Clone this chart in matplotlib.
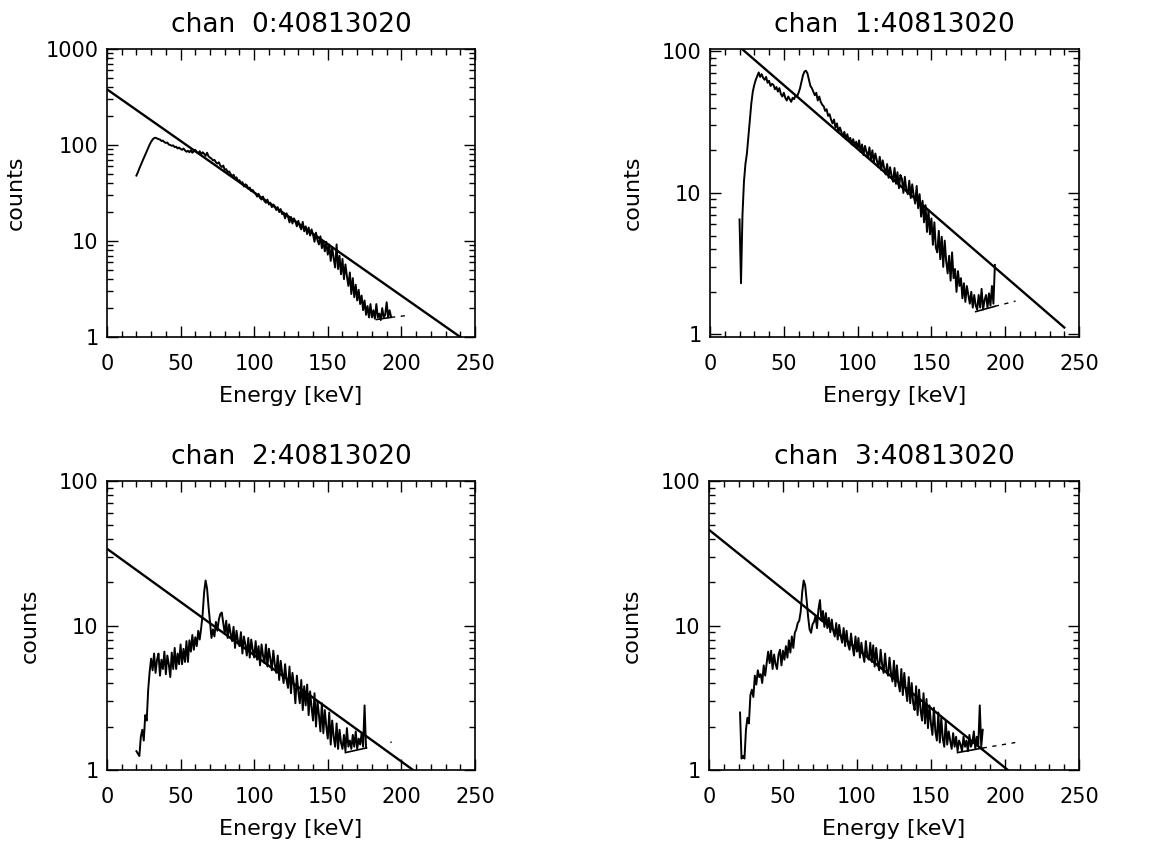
import numpy as np
import matplotlib
matplotlib.use("Agg")
import matplotlib.pyplot as plt
from matplotlib.ticker import MultipleLocator, LogLocator, FuncFormatter, NullFormatter

run_id = "40813020"

# channel energies [keV] (1 keV bins) and counts
energy0 = np.arange(20, 194)
counts0 = [48, 52, 57, 62, 67, 73, 79, 86, 93, 101,
           108, 114, 118, 119, 117, 115, 114, 110, 111, 107,
           105, 106, 101, 100, 98, 99, 95, 96, 92, 94,
           91, 89, 92, 88, 85, 87, 84, 88, 83, 86,
           89, 84, 82, 86, 80, 84, 81, 77, 83, 76,
           74, 72, 69, 70, 66, 64, 66, 61, 59, 61,
           55, 56, 52, 53, 50, 47, 49, 45, 46, 42,
           43, 40, 41, 37, 39, 38, 35, 36, 33, 34,
           32, 31, 29, 31, 28, 27, 29, 26, 25, 27,
           24, 25, 22.5, 24, 23, 21, 22.5, 20, 21.5, 19,
           19.5, 17.2, 19.4, 18, 15.6, 17.8, 15.2, 17.2, 16, 14.2,
           16.2, 14.2, 13.2, 15.8, 12.6, 14.2, 11.8, 13.8, 11.4, 13.2,
           11.6, 9.8, 12.2, 10.2, 9.2, 11.2, 8.4, 10.0, 7.8, 9.8,
           7.2, 9.2, 6.2, 8.6, 6.6, 5.3, 9.2, 5.1, 7.0, 4.5,
           6.5, 4.0, 5.7, 4.3, 3.4, 4.7, 2.8, 4.1, 2.6, 3.5,
           2.4, 3.1, 2.2, 2.7, 1.9, 2.4, 1.7, 2.1, 1.6, 2.2,
           1.6, 1.9, 1.55, 2.2, 1.6, 1.75, 1.5, 2.0, 1.6, 1.7,
           2.3, 1.6, 1.9, 1.62]

energy1 = np.arange(20, 194)
counts1 = [6.5, 2.3, 7, 12, 16, 19, 25, 33, 43, 52,
           58, 63, 67, 71, 66, 69, 65, 63, 66, 60,
           62, 57, 59, 58, 54, 56, 52, 55, 50, 48,
           51, 47, 45, 48, 46, 44, 47, 46, 49, 48,
           51, 55, 61, 68, 72, 73, 70, 63, 57, 55,
           52, 49, 51, 45, 48, 44, 42, 41, 38, 39,
           35, 36, 33, 31, 33, 29, 31, 27, 29, 27,
           25, 27, 24, 26, 23.5, 24.5, 22, 24, 21.5, 23,
           20.5, 23.5, 19.5, 22, 18.5, 21.5, 19.5, 18, 21, 17,
           20, 16.5, 19, 17, 15.2, 18, 14.5, 17, 15, 13.5,
           16, 12.8, 15.2, 13.2, 12, 15, 11.6, 14, 10.8, 13.4,
           12.6, 10, 13, 10.5, 9.8, 12.2, 9.2, 11.5, 9.6, 8.4,
           11.2, 7.8, 9.8, 6.8, 8.8, 6.2, 8.2, 5.3, 7.6, 5.1,
           6.6, 4.3, 6.2, 4.1, 3.8, 5.4, 3.4, 4.9, 3.0, 4.6,
           3.3, 2.7, 3.6, 2.4, 3.8, 2.5, 2.9, 2.0, 2.8, 2.2,
           2.5, 1.8, 2.3, 1.7, 2.2, 1.9, 1.65, 2.0, 1.55, 1.9,
           1.6, 1.5, 1.9, 1.55, 2.1, 1.5, 1.75, 1.9, 1.55, 1.95,
           1.6, 2.2, 1.65, 3.1]

energy2 = np.arange(20, 177)
counts2 = [1.35, 1.3, 1.25, 1.7, 1.9, 1.6, 2.4, 2.2, 3.6, 4.8,
           5.9, 4.9, 6.4, 4.7, 5.8, 6.4, 4.5, 5.8, 5.0, 6.6,
           4.6, 6.2, 5.4, 4.4, 6.5, 5.0, 7.0, 5.0, 6.4, 5.4,
           7.4, 5.4, 6.9, 5.6, 7.8, 5.6, 7.9, 6.6, 8.6, 6.8,
           8.3, 7.2, 9.2, 8.0, 9.6, 12, 17, 20.5, 18, 13.5,
           10.5, 8.2, 9.4, 8.4, 10.6, 9.2, 11.0, 12.0, 12.3, 10.4,
           8.8, 10.8, 8.2, 10.2, 8.8, 7.8, 9.8, 7.0, 9.2, 7.8,
           7.2, 9.0, 6.4, 8.4, 7.4, 6.2, 8.2, 6.0, 8.0, 6.8,
           6.0, 7.8, 5.8, 7.2, 5.3, 7.4, 6.2, 5.5, 7.4, 5.2,
           6.9, 5.9, 4.9, 6.7, 5.4, 4.7, 6.2, 4.2, 5.7, 4.7,
           4.0, 5.4, 4.2, 3.7, 5.2, 3.4, 4.7, 3.9, 2.9, 4.5,
           3.5, 2.9, 4.2, 2.6, 3.8, 2.8, 3.9, 2.4, 3.5, 2.7,
           2.2, 3.4, 2.0, 3.0, 2.4, 1.85, 2.9, 1.8, 2.6, 2.0,
           1.65, 2.5, 1.5, 2.2, 1.7, 1.45, 2.1, 1.4, 1.9, 1.55,
           1.4, 1.75, 1.35, 1.95, 1.45, 1.6, 1.4, 1.75, 1.45, 1.85,
           1.4, 1.65, 1.5, 1.8, 1.45, 2.8, 1.42]

energy3 = np.arange(21, 186)
counts3 = [2.5, 1.2, 1.25, 1.2, 1.9, 2.3, 2.1, 3.3, 3.6, 3.2,
           4.5, 3.9, 4.9, 4.4, 4.6, 4.0, 5.3, 4.5, 5.5, 6.6,
           5.5, 6.7, 5.0, 6.3, 5.4, 5.0, 6.3, 6.8, 5.3, 6.7,
           5.8, 7.2, 6.0, 7.9, 6.5, 8.4, 7.0, 8.9, 9.4, 10.4,
           10.8, 12.5, 17, 20.5, 19, 15, 11.5, 9.4, 8.9, 10.2,
           10.6, 11.6, 9.6, 13, 15, 10.8, 12.6, 9.8, 12.2, 9.6,
           11.3, 9.0, 11.0, 9.2, 8.4, 10.4, 8.0, 10.1, 8.5, 7.6,
           9.6, 7.2, 9.2, 7.4, 6.8, 8.8, 7.2, 6.2, 8.4, 6.6,
           8.2, 6.0, 7.6, 6.4, 5.6, 7.8, 6.2, 5.8, 7.6, 5.6,
           7.3, 5.2, 7.0, 5.6, 4.9, 6.8, 5.4, 4.7, 6.4, 4.9,
           4.5, 6.0, 4.7, 4.1, 5.7, 3.8, 5.3, 4.0, 3.5, 5.0,
           3.3, 4.7, 3.6, 3.0, 4.4, 2.9, 4.0, 2.9, 2.6, 3.8,
           2.4, 3.6, 2.6, 2.2, 3.4, 2.1, 3.1, 1.95, 2.8, 2.1,
           1.75, 2.7, 1.85, 1.6, 2.5, 1.55, 2.3, 1.65, 1.45, 2.2,
           1.5, 1.85, 1.6, 1.4, 1.8, 1.45, 1.7, 1.35, 1.6, 1.5,
           1.35, 1.7, 1.45, 1.6, 1.35, 1.75, 1.45, 1.55, 1.85, 1.4,
           1.7, 1.5, 2.8, 1.45, 1.9]

# power-law fit lines (energy, counts at the two ends)
fit0_e, fit0_c = [0, 240], [380, 1.0]
fit1_e, fit1_c = [0, 240], [163, 1.12]
fit2_e, fit2_c = [0, 208], [34, 1.0]
fit3_e, fit3_c = [0, 202], [46, 1.0]

# background floor under the spectrum and its extrapolation
bkg0_e, bkg0_c = [183, 193], [1.52, 1.6]
bkg1_e, bkg1_c = [180, 193], [1.45, 1.58]
bkg2_e, bkg2_c = [162, 176], [1.32, 1.42]
bkg3_e, bkg3_c = [168, 185], [1.32, 1.42]
tail0_e, tail0_c = [193, 205], [1.6, 1.68]
tail1_e, tail1_c = [193, 207], [1.58, 1.72]
tail2_e, tail2_c = [176, 200], [1.42, 1.62]
tail3_e, tail3_c = [185, 207], [1.42, 1.55]

ylims = [(1, 1000), (0.96, 104), (1, 100), (1, 100)]

panels = [
    (energy0, counts0, fit0_e, fit0_c, bkg0_e, bkg0_c, tail0_e, tail0_c),
    (energy1, counts1, fit1_e, fit1_c, bkg1_e, bkg1_c, tail1_e, tail1_c),
    (energy2, counts2, fit2_e, fit2_c, bkg2_e, bkg2_c, tail2_e, tail2_c),
    (energy3, counts3, fit3_e, fit3_c, bkg3_e, bkg3_c, tail3_e, tail3_c),
]

# axes rectangles [left, bottom, width, height] in figure fractions
rects = [
    [0.0923, 0.6017, 0.3175, 0.3404],
    [0.6126, 0.6017, 0.3184, 0.3404],
    [0.0923, 0.0898, 0.3175, 0.3416],
    [0.6117, 0.0898, 0.3192, 0.3416],
]
tail_styles = [(0, (3, 4)), (0, (3, 4)), (0, (1, 8)), (0, (3, 4))]

fig = plt.figure(figsize=(11.59, 8.46), dpi=100)

for i, (e, c, fe, fc, be, bc, te, tc) in enumerate(panels):
    ax = fig.add_axes(rects[i])
    ax.plot(e, c, color="black", lw=1.4)
    ax.plot(fe, fc, color="black", lw=1.7)
    ax.plot(be, bc, color="black", lw=1.2)
    ax.plot(te, tc, color="black", lw=1.0, linestyle=tail_styles[i])

    ax.set_yscale("log")
    ax.set_xlim(0, 250)
    ax.set_ylim(*ylims[i])
    ax.xaxis.set_major_locator(MultipleLocator(50))
    ax.xaxis.set_minor_locator(MultipleLocator(10))
    ax.yaxis.set_major_locator(LogLocator(base=10))
    ax.yaxis.set_minor_locator(LogLocator(base=10, subs=np.arange(2, 10)))
    ax.yaxis.set_major_formatter(FuncFormatter(lambda v, p: f"{v:g}"))
    ax.yaxis.set_minor_formatter(NullFormatter())

    ax.tick_params(which="both", direction="in", top=True, right=True,
                   labelsize=15, width=1.0)
    ax.tick_params(which="major", length=8)
    ax.tick_params(which="minor", length=4)
    ax.tick_params(axis="x", which="major", pad=12)
    ax.tick_params(axis="y", which="major", pad=6)
    for s in ax.spines.values():
        s.set_linewidth(1.2)

    ax.set_title(f"chan  {i}:{run_id}", fontsize=19, pad=12)
    ax.set_xlabel("Energy [keV]", fontsize=16, labelpad=9)
    ax.set_ylabel("counts", fontsize=16, labelpad=14)

fig.savefig("out.png", dpi=100, facecolor="white")
